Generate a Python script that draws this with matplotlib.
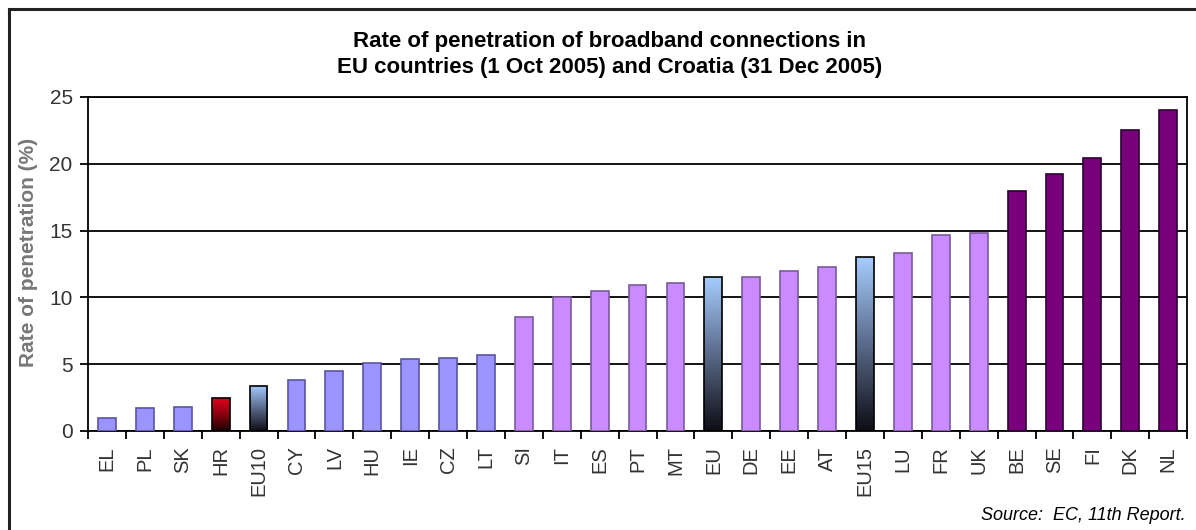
import numpy as np
import matplotlib
matplotlib.use('Agg')
import matplotlib.pyplot as plt
from matplotlib.colors import LinearSegmentedColormap

plt.rcParams['font.family'] = ['Liberation Sans', 'DejaVu Sans']

# dados
paises = ['EL', 'PL', 'SK', 'HR', 'EU10', 'CY', 'LV', 'HU', 'IE', 'CZ', 'LT',
          'SI', 'IT', 'ES', 'PT', 'MT', 'EU', 'DE', 'EE', 'AT', 'EU15', 'LU',
          'FR', 'UK', 'BE', 'SE', 'FI', 'DK', 'NL']
taxa = [1.0, 1.7, 1.8, 2.5, 3.4, 3.8, 4.5, 5.1, 5.4, 5.5, 5.7,
        8.5, 10.0, 10.5, 10.9, 11.1, 11.5, 11.5, 12.0, 12.3, 13.0, 13.3,
        14.7, 14.8, 18.0, 19.2, 20.4, 22.5, 24.0]
grupo = ['baixo', 'baixo', 'baixo', 'hr', 'media', 'baixo', 'baixo', 'baixo', 'baixo', 'baixo', 'baixo',
         'medio', 'medio', 'medio', 'medio', 'medio', 'media', 'medio', 'medio', 'medio', 'media', 'medio',
         'medio', 'medio', 'alto', 'alto', 'alto', 'alto', 'alto']

cores = {'baixo': '#9b93ff', 'medio': '#c98bff', 'alto': '#78007a'}
bordas = {'baixo': '#5a55a0', 'medio': '#7a5a9a', 'alto': '#2a0030'}
grad_media = LinearSegmentedColormap.from_list('media', ['#0d0d14', '#5a6a8a', '#a6cdff'])
grad_hr = LinearSegmentedColormap.from_list('hr', ['#1a0000', '#8a0010', '#e8001a'])

fig = plt.figure(figsize=(11.96, 5.30), dpi=100)
ax = fig.add_axes([0.0736, 0.1868, 0.919, 0.6302])

x = np.arange(len(paises))
larg = 0.47
barras = ax.bar(x, taxa, width=larg, zorder=3, linewidth=1.2)
for b, g in zip(barras, grupo):
    if g in cores:
        b.set_facecolor(cores[g])
        b.set_edgecolor(bordas[g])
    else:
        # barras com degrade (medias da UE e Croacia)
        b.set_facecolor('none')
        b.set_edgecolor('black')
        cmap = grad_hr if g == 'hr' else grad_media
        grad = np.linspace(0, 1, 256).reshape(-1, 1)
        x0 = b.get_x()
        im = ax.imshow(grad, cmap=cmap, origin='lower', aspect='auto',
                       extent=[x0, x0 + b.get_width(), 0, b.get_height()], zorder=2.9)
        im.set_clip_path(b)

ax.set_xlim(-0.5, len(paises) - 0.5)
ax.set_ylim(0, 25)
ax.set_yticks([0, 5, 10, 15, 20, 25])
ax.yaxis.grid(True, color='black', linewidth=1.3, zorder=1)
ax.set_axisbelow(True)

ax.set_xticks(x)
ax.set_xticklabels(paises, rotation=90, fontsize=14.5, color='#333333')
ax.set_xticks(np.arange(-0.5, len(paises), 1), minor=True)
ax.tick_params(axis='x', which='major', length=0, pad=11)
ax.tick_params(axis='x', which='minor', length=6, width=1.3, direction='out')
ax.tick_params(axis='y', length=6, width=1.3, labelsize=15, labelcolor='#333333', pad=5)
for s in ax.spines.values():
    s.set_linewidth(1.3)

fig.text(0.024, 0.523, 'Rate of penetration (%)', rotation=90, ha='center', va='center',
         fontsize=15, fontweight='bold', color='#777777')

fig.text(0.51, 1 - 47/530, 'Rate of penetration of broadband connections in',
         ha='center', va='baseline', fontsize=16, fontweight='bold')
fig.text(0.51, 1 - 73/530, 'EU countries (1 Oct 2005) and Croatia (31 Dec 2005)',
         ha='center', va='baseline', fontsize=16, fontweight='bold')

fig.text(0.991, 0.028, 'Source:  EC, 11th Report.', ha='right', va='center',
         fontsize=13, style='italic')

# moldura externa (so esquerda e topo aparecem)
fig.add_artist(plt.Line2D([9/1196, 9/1196], [0, 1 - 9/530], color='#222222', linewidth=2.2))
fig.add_artist(plt.Line2D([9/1196, 1], [1 - 9/530, 1 - 9/530], color='#222222', linewidth=2.2))

fig.savefig('out.png', dpi=100)
